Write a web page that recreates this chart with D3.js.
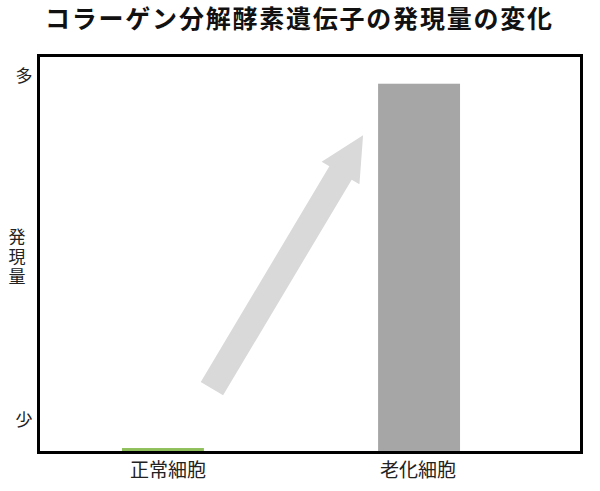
<!DOCTYPE html>
<html>
<head>
<meta charset="utf-8">
<script src="https://cdn.jsdelivr.net/npm/d3@7"></script>
<style>
  body { margin: 0; background: #fff; }
  text { font-family: "Noto Sans CJK JP", "Noto Sans", sans-serif; fill: #222; }
</style>
</head>
<body>
<div id="chart"></div>
<script>
// data
var title = "コラーゲン分解酵素遺伝子の発現量の変化";
var categories = ["正常細胞", "老化細胞"];
var values = [1, 93];
var barColors = ["#8fbf5a", "#a6a6a6"];
var yTickValues = [8, 95];
var yTickLabels = ["少", "多"];
var yTitle = "発現量";
// arrow goes from just right of the first bar to just left of the second
var arrowFrom = 16, arrowTo = 80;

var width = 600, height = 491;
var frameLeft = 38.5, frameRight = 581.5, frameTop = 55.5, frameBottom = 452.5;

var svg = d3.select("#chart").append("svg")
    .attr("width", width)
    .attr("height", height);

svg.append("rect").attr("width", width).attr("height", height).attr("fill", "#fff");

var x = d3.scaleBand()
    .domain(categories)
    .range([40, 542])
    .paddingInner(0.68)
    .paddingOuter(0.32);

var y = d3.scaleLinear()
    .domain([0, 100])
    .range([452, 56]);

// title
svg.append("text")
    .attr("x", 298.5)
    .attr("y", 28)
    .attr("text-anchor", "middle")
    .attr("textLength", 507)
    .attr("lengthAdjust", "spacing")
    .style("font-size", "25px")
    .style("font-weight", 700)
    .style("fill", "#111")
    .text(title);

// arrow
var ax0 = x(categories[0]) + x.bandwidth() + 8, ay0 = y(arrowFrom);
var ax1 = x(categories[1]) - 15, ay1 = y(arrowTo);
var ang = Math.atan2(ay1 - ay0, ax1 - ax0);
var len = Math.hypot(ax1 - ax0, ay1 - ay0);
var shaft = 13, head = 22, headLen = 44;
var arrowPts = [
    [0, -shaft], [len - headLen, -shaft], [len - headLen, -head],
    [len, 0], [len - headLen, head], [len - headLen, shaft], [0, shaft]
];
svg.append("path")
    .attr("d", d3.line()(arrowPts) + "Z")
    .attr("fill", "#d9d9d9")
    .attr("transform", "translate(" + ax0 + "," + ay0 + ") rotate(" + (ang * 180 / Math.PI) + ")");

// bars
svg.selectAll(".bar")
    .data(categories)
    .enter().append("rect")
    .attr("class", "bar")
    .attr("x", function(d) { return x(d); })
    .attr("width", x.bandwidth())
    .attr("y", function(d, i) { return y(values[i]); })
    .attr("height", function(d, i) { return y(0) - y(values[i]); })
    .attr("fill", function(d, i) { return barColors[i]; });

// frame
svg.append("rect")
    .attr("x", frameLeft).attr("y", frameTop)
    .attr("width", frameRight - frameLeft).attr("height", frameBottom - frameTop)
    .attr("fill", "none")
    .attr("stroke", "#000")
    .attr("stroke-width", 3);

// x axis labels
var xAxis = svg.append("g")
    .attr("transform", "translate(0," + frameBottom + ")")
    .call(d3.axisBottom(x).tickSize(0).tickPadding(11));
xAxis.select(".domain").remove();
xAxis.selectAll("text")
    .style("font-size", "19px")
    .style("font-family", "'Noto Sans CJK JP', sans-serif")
    .attr("fill", "#222")
    .attr("dx", function(d, i) { return i === 0 ? 5 : -1; });

// y axis labels
var yAxis = svg.append("g")
    .attr("transform", "translate(" + frameLeft + ",0)")
    .call(d3.axisLeft(y).tickValues(yTickValues).tickSize(0).tickPadding(6)
        .tickFormat(function(d, i) { return yTickLabels[i]; }));
yAxis.select(".domain").remove();
yAxis.selectAll("text")
    .style("font-size", "17px")
    .style("font-family", "'Noto Sans CJK JP', sans-serif")
    .attr("fill", "#222");

// vertical y title
svg.append("text")
    .attr("x", 17)
    .attr("y", 228)
    .style("writing-mode", "vertical-rl")
    .style("font-size", "17px")
    .style("letter-spacing", "3px")
    .text(yTitle);
</script>
</body>
</html>
